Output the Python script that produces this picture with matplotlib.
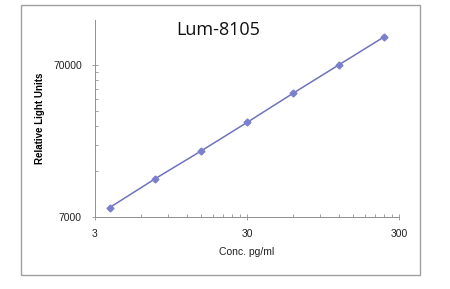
import matplotlib
matplotlib.use("Agg")
import matplotlib.pyplot as plt
from matplotlib.patches import Rectangle
from matplotlib.ticker import FixedLocator, NullFormatter
import numpy as np

# data
conc = [3.75, 7.5, 15, 30, 60, 120, 240]
rlu = [8080, 12540, 19060, 29330, 45520, 70000, 107500]
x_ticks = [3, 30, 300]
y_ticks = [7000, 70000]

plt.rcParams['font.family'] = ['Liberation Sans', 'DejaVu Sans']

fig = plt.figure(figsize=(4.5, 2.89), dpi=100)
fig.patches.append(Rectangle((21 / 450, 1 - 275 / 289), 399 / 450, 270 / 289,
                             transform=fig.transFigure, fill=False,
                             edgecolor='#a0a0a0', linewidth=1.0))

ax = fig.add_axes([95 / 450, 1 - 217 / 289, 304 / 450, 197 / 289])
ax.plot(conc, rlu, color='#6f73bd', linewidth=1.1, marker='D',
        markersize=3.5, markerfacecolor='#7b80cc', markeredgecolor='#7b80cc')

ax.set_xscale('log')
ax.set_yscale('log')
ax.set_xlim(3, 300)
ax.set_ylim(7000, 138600)

ax.xaxis.set_major_locator(FixedLocator(x_ticks))
ax.set_xticklabels([str(v) for v in x_ticks])
ax.yaxis.set_major_locator(FixedLocator(y_ticks))
ax.set_yticklabels([str(v) for v in y_ticks])
ax.xaxis.set_minor_locator(FixedLocator([3 * k for k in range(2, 10)] + [30 * k for k in range(2, 10)]))
ax.yaxis.set_minor_locator(FixedLocator([7000 * k for k in range(2, 10)] + [70000 * k for k in range(2, 3)]))
ax.xaxis.set_minor_formatter(NullFormatter())
ax.yaxis.set_minor_formatter(NullFormatter())

ax.tick_params(axis='both', which='major', direction='inout', length=5, width=0.6,
               color='#909090', labelsize=7.5, labelcolor='#222222')
ax.tick_params(axis='y', which='major', pad=7)
ax.tick_params(axis='x', which='major', pad=6)
ax.tick_params(which='minor', direction='in', length=2.5, width=0.6, color='#909090')

for side in ['top', 'right']:
    ax.spines[side].set_visible(False)
for side in ['left', 'bottom']:
    ax.spines[side].set_color('#909090')
    ax.spines[side].set_linewidth(0.7)

fig.text(218 / 450, 1 - 30 / 289, 'Lum-8105', fontsize=13, family='Open Sans',
         ha='center', va='center', color='#111111')
ax.set_xlabel('Conc. pg/ml', fontsize=7.5, color='#222222', labelpad=6)
ax.set_ylabel('Relative Light Units', fontsize=7, fontweight='bold', labelpad=6)

fig.savefig('out.png', dpi=100)
